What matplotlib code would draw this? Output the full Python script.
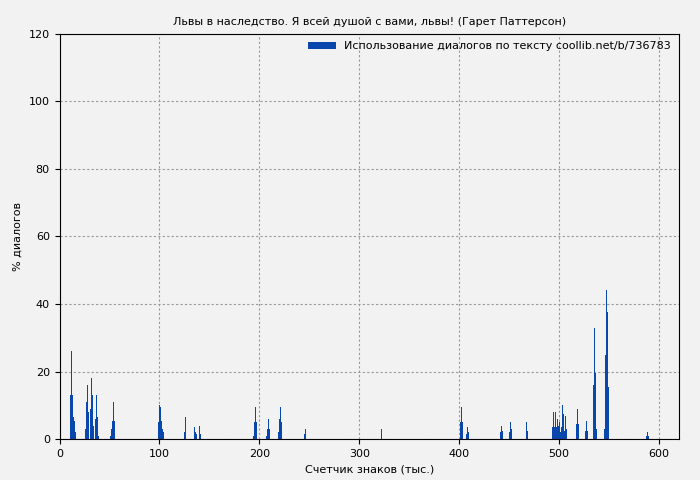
import matplotlib
matplotlib.use("Agg")
import matplotlib.pyplot as plt

# positions (thousand chars) and dialogue percent
xs = [11, 12, 13, 14, 15, 16,
      26, 27, 28, 29, 31, 32, 33, 34, 36, 37, 38, 39,
      51, 52, 53, 54, 55,
      99, 100, 101, 102, 103, 104,
      125, 126, 135, 136, 137, 140, 141,
      194, 195, 196, 197, 207, 208, 209, 210, 219, 220, 221, 222, 245, 246,
      322, 401, 402, 403, 407, 408, 409,
      441, 442, 443, 450, 451, 452, 467, 468,
      493, 494, 495, 496, 497, 498, 499, 500, 501, 502, 503, 504, 505, 506, 507,
      517, 518, 519, 526, 527, 528, 534, 535, 536, 537,
      545, 546, 547, 548, 549, 587, 588, 589]
vals = [13, 26, 13, 6.5, 5.5, 2,
        3, 11, 16, 8, 9, 18, 13, 4, 6, 13, 6.5, 1,
        1, 3, 5.5, 11, 5.5,
        5, 10, 9.5, 5.5, 3, 2,
        2, 6.5, 3.5, 2, 1.5, 4, 1.5,
        1, 5, 9.5, 5, 1, 3, 6, 3, 2, 6, 9.5, 5, 1.5, 3,
        3, 5, 9.5, 5, 1.5, 3.5, 2,
        2, 4, 2.5, 2, 5, 3, 5, 2.5,
        3.5, 8, 3.5, 8, 3.5, 6, 4, 5, 2, 3.5, 10, 7.5, 2.5, 7, 3,
        4.5, 9, 4.5, 2.5, 5.5, 2.5, 16, 33, 19.5, 3,
        3, 25, 44, 37.5, 15.5, 1, 2, 1]

fig, ax = plt.subplots(figsize=(7, 4.8), dpi=100)
fig.patch.set_facecolor("#f2f2f2")
ax.set_facecolor("#f2f2f2")
ax.bar(xs, vals, width=1.0, color="#0a47ad", align="edge",
       label="Использование диалогов по тексту coollib.net/b/736783")
ax.set_xlim(0, 620)
ax.set_ylim(0, 120)
ax.set_xticks(range(0, 601, 100))
ax.set_yticks(range(0, 121, 20))
ax.grid(True, linestyle=(0, (2, 2)), color="#999999", linewidth=0.8)
ax.set_axisbelow(True)
ax.tick_params(labelsize=8)
ax.set_xlabel("Счетчик знаков (тыс.)", fontsize=8)
ax.set_ylabel("% диалогов", fontsize=8)
ax.set_title("Львы в наследство. Я всей душой с вами, львы! (Гарет Паттерсон)", fontsize=8)
ax.legend(loc="upper right", frameon=False, fontsize=8, handlelength=2.5, borderaxespad=0.3)
fig.subplots_adjust(left=0.085, right=0.97, top=0.93, bottom=0.085)
fig.savefig("out.png")
